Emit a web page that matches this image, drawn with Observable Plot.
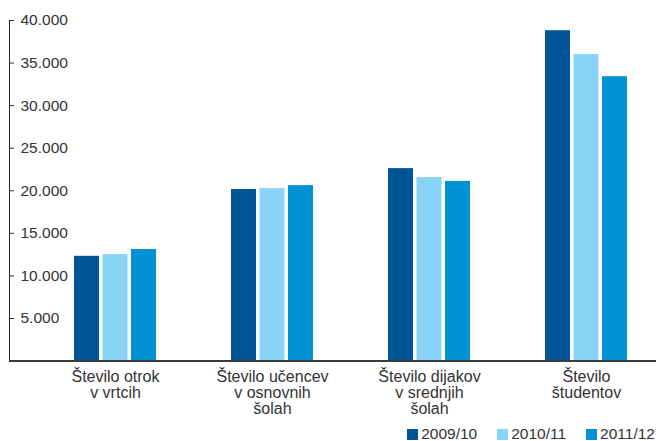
<!DOCTYPE html>
<html>
<head>
<meta charset="utf-8">
<script src="https://cdn.jsdelivr.net/npm/d3@7"></script>
<script src="https://cdn.jsdelivr.net/npm/@observablehq/plot@0.6"></script>
<style>
  html, body { margin: 0; padding: 0; background: #fff; }
  body { font-family: "Liberation Sans", Arial, sans-serif; }
  #chart { width: 656px; }
  #legend { width: 656px; display: flex; justify-content: flex-end; margin-top: 1px; }
  #legend .lg-swatches { font-family: "Liberation Sans", Arial, sans-serif !important; font-size: 15.5px !important; color: #333 !important; margin: 0 !important; }
  #legend .lg-swatches-wrap { min-height: 0 !important; }
  #legend .lg-swatch { margin-right: 20px !important; }
  #legend .lg-swatch:last-child { margin-right: 1px !important; }
  #legend .lg-swatch > svg { margin-right: 3px !important; }
</style>
</head>
<body>
<div id="chart"></div>
<div id="legend"></div>
<script>
const categories = [
  "Število otrok v vrtcih",
  "Število učencev v osnovnih šolah",
  "Število dijakov v srednjih šolah",
  "Število študentov"
];
const categoryLabels = [
  "Število otrok\nv vrtcih",
  "Število učencev\nv osnovnih\nšolah",
  "Število dijakov\nv srednjih\nšolah",
  "Število\nštudentov"
];
const years = ["2009/10", "2010/11", "2011/12"];
const values2009 = [12300, 20150, 22600, 38800];
const values2010 = [12500, 20250, 21550, 36000];
const values2011 = [13100, 20600, 21100, 33400];
const yTicks = [5000, 10000, 15000, 20000, 25000, 30000, 35000, 40000];
const colors = ["#005596", "#88D4F6", "#0092D3"];

const seriesValues = [values2009, values2010, values2011];
const data = [];
categories.forEach((c, i) => {
  years.forEach((y, j) => data.push({category: c, year: y, value: seriesValues[j][i]}));
});

const locale = d3.formatLocale({decimal: ",", thousands: ".", grouping: [3], currency: ["", " €"]});
const fmt = locale.format(",");

const H = 424;
const baseline = 360.5;
const font = "'Liberation Sans', Arial, sans-serif";

const chart = Plot.plot({
  width: 656,
  height: H,
  marginTop: 20,
  marginLeft: 9,
  marginRight: 0,
  marginBottom: H - baseline,
  style: {fontFamily: font, fontSize: "15px", color: "#333", background: "white", overflow: "visible"},
  fx: {domain: categories, paddingInner: 0, paddingOuter: 0.0605, align: 0, round: false, axis: null, label: null},
  x: {domain: years, paddingInner: 0.123, paddingOuter: 1.316, align: 0.8666, round: false, axis: null},
  y: {domain: [0, 40000], axis: null},
  color: {domain: years, range: colors},
  marks: [
    Plot.barY(data, {fx: "category", x: "year", y: "value", fill: "year", inset: 0}),
    Plot.axisY(yTicks, {anchor: "left", tickSize: -5, tickPadding: -6, textAnchor: "start",
      tickFormat: fmt, color: "#333", fontSize: 15.5, label: null}),
    Plot.frame({anchor: "left", facetAnchor: "left", stroke: "#222"}),
    Plot.ruleY([0], {stroke: "#3a3a3a", strokeWidth: 2, insetRight: -19}),
    Plot.text(categories, {fx: d => d, x: () => years[1], text: (d, i) => categoryLabels[i], frameAnchor: "bottom",
      lineAnchor: "top", dy: 10, lineHeight: 1.0, fontSize: 16, fill: "#333"})
  ]
});
document.getElementById("chart").appendChild(chart);

const legend = Plot.legend({
  color: {domain: years, range: colors},
  legend: "swatches",
  swatchSize: 11,
  className: "lg"
});
document.getElementById("legend").appendChild(legend);
</script>
</body>
</html>
